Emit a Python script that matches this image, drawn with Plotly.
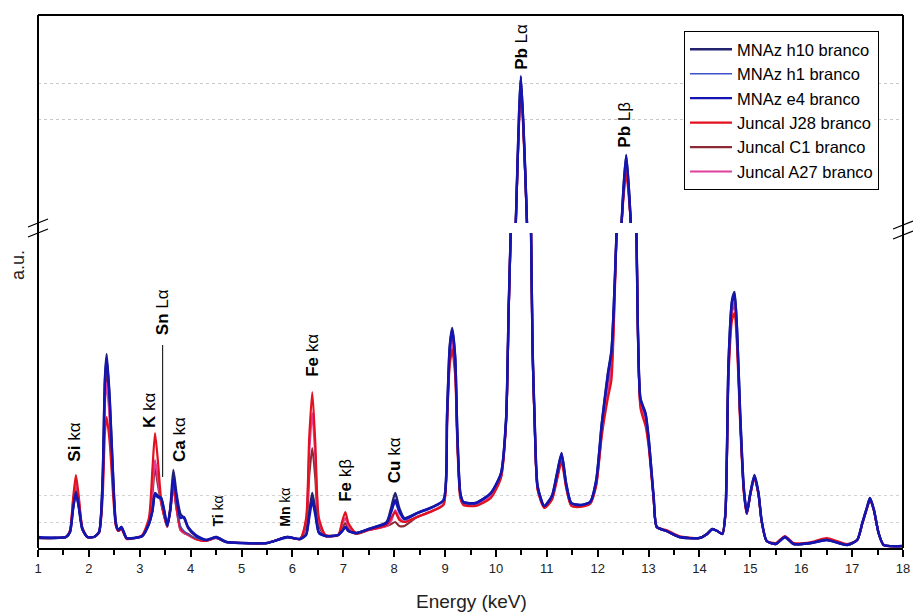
import plotly.graph_objects as go

# ---------------- data ----------------
energy = [
    1.0, 1.3, 1.55, 1.63, 1.69, 1.745, 1.8, 1.87, 1.97, 2.1,
    2.2, 2.27, 2.315, 2.35, 2.41, 2.48, 2.53, 2.58, 2.64, 2.74,
    2.9, 3.05, 3.18, 3.25, 3.3, 3.36, 3.42, 3.48, 3.54, 3.6,
    3.66, 3.72, 3.8, 3.87, 3.95, 4.1, 4.3, 4.5, 4.7, 5.0,
    5.5, 5.9, 6.15, 6.27, 6.33, 6.39, 6.45, 6.52, 6.65, 6.9,
    6.98, 7.04, 7.1, 7.25, 7.5, 7.85, 7.94, 8.02, 8.1, 8.2,
    8.45, 8.75, 8.97, 9.04, 9.09, 9.14, 9.2, 9.24, 9.3, 9.36,
    9.6, 9.9, 10.1, 10.2, 10.25, 10.29, 10.39, 10.49, 10.61, 10.69,
    10.72, 10.76, 10.82, 10.95, 11.1, 11.2, 11.29, 11.38, 11.48, 11.65,
    11.85, 11.97, 12.08, 12.2, 12.27, 12.37, 12.47, 12.56, 12.65, 12.76,
    12.84, 12.94, 13.0, 13.1, 13.16, 13.35, 13.6, 14.0, 14.15, 14.25,
    14.35, 14.45, 14.51, 14.57, 14.64, 14.69, 14.74, 14.8, 14.87, 14.93,
    15.0, 15.08, 15.16, 15.22, 15.32, 15.5, 15.68, 15.85, 16.2, 16.5,
    16.9, 17.1, 17.2, 17.3, 17.35, 17.43, 17.52, 17.62, 18.0,
]

mnaz_h10 = [
    10, 10, 11, 16, 40, 56, 42, 19, 11, 11,
    16, 70, 170, 194, 150, 68, 25, 18, 21, 10,
    10, 12, 24, 38, 55, 52, 50, 38, 22, 40,
    78, 55, 34, 30, 20, 12, 8, 11, 6, 5,
    5, 11, 9, 14, 35, 55, 38, 16, 12, 13,
    17, 21, 17, 15, 19, 26, 40, 55, 40, 30,
    35, 41, 48, 135, 201, 220, 191, 118, 55, 46,
    45, 55, 75, 130, 240, 315, 500, 647, 500, 315,
    200, 130, 62, 42, 52, 75, 95, 65, 45, 43,
    46, 68, 125, 175, 198, 315, 500, 568, 500, 315,
    150, 135, 111, 51, 21, 17, 11, 10, 14, 19,
    17, 14, 35, 185, 248, 256, 218, 135, 61, 35,
    55, 73, 55, 28, 7, 4, 11, 4, 5, 8,
    3, 8, 25, 42, 50, 38, 15, 3, 2,
]
mnaz_h1 = [
    10, 11, 11, 16, 38, 54, 40, 18, 11, 11,
    16, 66, 162, 185, 144, 65, 24, 18, 20, 10,
    10, 12, 23, 36, 52, 50, 48, 36, 22, 38,
    74, 50, 22, 17, 14, 10, 8, 10, 6, 5,
    5, 10, 9, 13, 32, 50, 35, 15, 12, 13,
    17, 21, 17, 15, 19, 25, 35, 45, 35, 28,
    34, 40, 47, 132, 196, 215, 187, 115, 54, 45,
    44, 54, 74, 128, 238, 315, 500, 644, 500, 315,
    198, 128, 60, 42, 51, 73, 93, 63, 44, 43,
    45, 66, 122, 170, 193, 315, 500, 565, 500, 315,
    148, 132, 108, 50, 21, 17, 11, 10, 14, 18,
    17, 14, 34, 181, 243, 250, 213, 132, 60, 34,
    54, 71, 54, 27, 7, 4, 10, 4, 5, 8,
    3, 8, 24, 41, 49, 37, 15, 3, 2,
]
mnaz_e4 = [
    11, 10, 11, 16, 39, 55, 41, 19, 11, 11,
    16, 68, 166, 190, 147, 66, 25, 18, 21, 10,
    10, 12, 24, 37, 54, 51, 50, 37, 23, 37,
    70, 52, 30, 31, 21, 13, 8, 11, 6, 5,
    5, 11, 9, 13, 30, 47, 33, 15, 12, 13,
    17, 21, 17, 15, 19, 25, 36, 48, 37, 29,
    35, 41, 48, 134, 199, 218, 189, 117, 55, 46,
    45, 55, 75, 130, 240, 315, 500, 646, 500, 315,
    199, 129, 61, 42, 52, 74, 94, 64, 45, 43,
    46, 67, 124, 173, 196, 315, 500, 567, 500, 315,
    149, 134, 110, 51, 21, 17, 11, 10, 14, 19,
    17, 14, 35, 184, 246, 254, 216, 134, 61, 35,
    55, 72, 55, 28, 7, 4, 11, 4, 5, 8,
    3, 8, 25, 42, 50, 38, 15, 3, 2,
]
juncal_j28 = [
    10, 10, 11, 18, 50, 73, 52, 21, 11, 11,
    15, 50, 115, 131, 105, 50, 22, 17, 19, 9,
    10, 13, 30, 80, 115, 85, 48, 32, 22, 40,
    65, 42, 20, 16, 14, 9, 7, 10, 6, 5,
    5, 11, 9, 30, 110, 156, 105, 30, 13, 13,
    27, 36, 25, 15, 18, 23, 30, 36, 28, 26,
    31, 37, 43, 125, 182, 198, 172, 106, 50, 43,
    42, 50, 70, 125, 235, 315, 500, 633, 500, 315,
    195, 125, 58, 40, 48, 68, 86, 60, 42, 41,
    44, 62, 112, 150, 168, 315, 500, 549, 500, 315,
    140, 122, 102, 48, 21, 18, 12, 10, 14, 19,
    17, 14, 33, 170, 228, 235, 200, 124, 56, 34,
    53, 70, 53, 27, 7, 5, 12, 5, 6, 10,
    4, 8, 25, 41, 48, 37, 15, 3, 2,
]
juncal_c1 = [
    10, 10, 11, 17, 44, 62, 46, 20, 11, 11,
    16, 62, 152, 175, 136, 62, 24, 17, 20, 10,
    10, 12, 26, 55, 80, 62, 45, 32, 21, 38,
    60, 40, 18, 15, 13, 9, 7, 10, 6, 5,
    5, 11, 9, 22, 72, 100, 70, 22, 12, 13,
    20, 25, 19, 14, 18, 22, 24, 26, 22, 22,
    31, 37, 44, 128, 188, 205, 178, 110, 52, 44,
    43, 52, 72, 127, 237, 315, 500, 638, 500, 315,
    196, 127, 59, 41, 50, 70, 90, 62, 43, 42,
    45, 64, 116, 160, 182, 315, 500, 558, 500, 315,
    144, 127, 106, 49, 21, 17, 11, 10, 14, 19,
    17, 14, 34, 176, 236, 245, 208, 129, 58, 34,
    54, 71, 54, 27, 7, 4, 11, 4, 5, 9,
    3, 8, 24, 41, 49, 37, 15, 3, 2,
]
juncal_a27 = [
    10, 10, 11, 17, 47, 66, 49, 20, 11, 11,
    16, 60, 145, 165, 128, 58, 23, 17, 20, 10,
    10, 12, 27, 62, 88, 68, 46, 32, 21, 38,
    62, 41, 18, 15, 13, 9, 7, 10, 6, 5,
    5, 11, 9, 27, 95, 135, 92, 27, 12, 13,
    24, 30, 22, 15, 18, 22, 27, 38, 30, 26,
    31, 37, 44, 129, 190, 208, 180, 112, 53, 44,
    43, 52, 72, 127, 237, 315, 500, 640, 500, 315,
    196, 127, 59, 41, 50, 70, 89, 62, 43, 42,
    45, 64, 116, 158, 178, 315, 500, 555, 500, 315,
    144, 126, 106, 49, 21, 17, 11, 10, 14, 19,
    17, 14, 34, 178, 238, 245, 208, 129, 58, 34,
    54, 71, 54, 27, 7, 4, 11, 4, 5, 9,
    3, 8, 24, 41, 49, 37, 15, 3, 2,
]

series_names = ["MNAz h10 branco", "MNAz h1 branco", "MNAz e4 branco",
                "Juncal J28 branco", "Juncal C1 branco", "Juncal A27 branco"]
series_values = [mnaz_h10, mnaz_h1, mnaz_e4, juncal_j28, juncal_c1, juncal_a27]
for v in series_values:
    assert len(v) == len(energy), len(v)

peak_labels = ["<b>Si</b> kα", "<b>K</b> kα", "<b>Sn</b> Lα", "<b>Ca</b> kα",
               "<b>Ti</b> kα", "<b>Mn</b> kα", "<b>Fe</b> kα", "<b>Fe</b> kβ",
               "<b>Cu</b> kα", "<b>Pb</b> Lα", "<b>Pb</b> Lβ"]
peak_x = [1.71, 3.18, 3.44, 3.78, 4.52, 5.84, 6.39, 7.04, 8.0, 10.49, 12.51]
peak_y = [84, 118, 211, 84, 19, 19, 169, 44, 63, 651, 573]
peak_axis = ["y", "y", "y", "y", "y", "y", "y", "y", "y", "y2", "y2"]
peak_size = [17, 17, 17, 17, 14, 14, 17, 17, 17, 17, 17]

x_ticks = list(range(1, 19))

# ---------------- styling ----------------
colors = ["#22226e", "#3f51c8", "#1414b4", "#e3101e", "#8b2a35", "#e0409c"]
widths = [2.4, 1.4, 2.4, 2.2, 2.2, 2.2]
draw_order = [4, 5, 3, 1, 0, 2]   # reds below, blues on top
FONT = "Liberation Sans, Arial, sans-serif"

fig = go.Figure()
for i in draw_order:
    for ax in ["y", "y2"]:
        fig.add_trace(go.Scatter(
            x=energy, y=series_values[i], mode="lines", name=series_names[i],
            line=dict(color=colors[i], width=widths[i], shape="spline", smoothing=0.6),
            xaxis="x", yaxis=ax, legendgroup=series_names[i],
            showlegend=(ax == "y"), legendrank=i + 1,
            hoverinfo="skip",
        ))

L, R, T, B = 38, 10, 15, 64
W, H = 913, 612
pw = W - L - R
ph = H - T - B
low_top = (548 - 233) / ph
up_bot = (548 - 223) / ph

fig.update_layout(
    width=W, height=H,
    margin=dict(l=L, r=R, t=T, b=B, autoexpand=False),
    paper_bgcolor="white", plot_bgcolor="white",
    font=dict(family=FONT, color="black"),
    xaxis=dict(range=[1, 18], tickvals=x_ticks, ticktext=[str(v) for v in x_ticks],
               ticks="outside", ticklen=7, tickwidth=1.5, tickcolor="black",
               minor=dict(dtick=0.5, tick0=1, ticks="outside", ticklen=5, tickwidth=1.5, tickcolor="black"),
               showline=True, linecolor="black", linewidth=2, showgrid=False, zeroline=False,
               tickfont=dict(size=13, color="#222"), anchor="y", automargin=False),
    yaxis=dict(domain=[0, low_top], range=[0, 315], showticklabels=False, ticks="",
               showgrid=True, gridcolor="#d2d2d2", griddash="dot", gridwidth=1,
               tickvals=[26, 53], zeroline=False, showline=False, automargin=False),
    yaxis2=dict(domain=[up_bot, 1], range=[500, 708], showticklabels=False, ticks="",
                showgrid=True, gridcolor="#c8c8c8", griddash="dot", gridwidth=1,
                tickvals=[604, 640], zeroline=False, showline=False, anchor="x", automargin=False),
    legend=dict(x=(684 - L) / pw, y=(548 - 31) / ph, xanchor="left", yanchor="top",
                bordercolor="black", borderwidth=1, bgcolor="white", itemwidth=42,
                font=dict(size=16.5, family=FONT), tracegroupgap=0),
    showlegend=True,
)

def px_to_paper(px, py):
    return (px - L) / pw, (548 - py) / ph

shapes = []
# frame lines (left, right, top)
for (x0, y0, x1, y1) in [(0, 0, 0, 1), (1, 0, 1, 1), (0, 1, 1, 1)]:
    shapes.append(dict(type="line", xref="paper", yref="paper", x0=x0, y0=y0, x1=x1, y1=y1,
                       line=dict(color="black", width=2)))
# axis break marks
for (a, b, c, d) in [(28, 227, 48, 219), (28, 237, 48, 229),
                     (893, 229, 913, 221), (893, 239, 913, 231)]:
    x0, y0 = px_to_paper(a, b)
    x1, y1 = px_to_paper(c, d)
    shapes.append(dict(type="line", xref="paper", yref="paper", x0=x0, y0=y0, x1=x1, y1=y1,
                       line=dict(color="black", width=1.3)))
# Sn L-alpha marker line
shapes.append(dict(type="line", xref="x", yref="y", x0=3.45, x1=3.45, y0=71, y1=203,
                   line=dict(color="black", width=1)))
fig.update_layout(shapes=shapes)

ann = []
for lab, x, y, ax, sz in zip(peak_labels, peak_x, peak_y, peak_axis, peak_size):
    ann.append(dict(text=lab, x=x, y=y, xref="x", yref=ax, textangle=-90,
                    xanchor="center", yanchor="bottom", showarrow=False,
                    font=dict(size=sz, family=FONT, color="black")))
ann.append(dict(text="a.u.", x=(18 - L) / pw, y=(548 - 265) / ph, xref="paper", yref="paper",
                textangle=-90, showarrow=False, xanchor="center", yanchor="middle",
                font=dict(size=18, family=FONT, color="#222")))
ann.append(dict(text="Energy (keV)", x=(471 - L) / pw, y=(548 - 601) / ph, xref="paper", yref="paper",
                showarrow=False, xanchor="center", yanchor="middle",
                font=dict(size=19, family=FONT, color="#222")))
fig.update_layout(annotations=ann)

fig.write_html("out.html", config={"displayModeBar": False},
               post_script="document.body.style.margin='0px';")
